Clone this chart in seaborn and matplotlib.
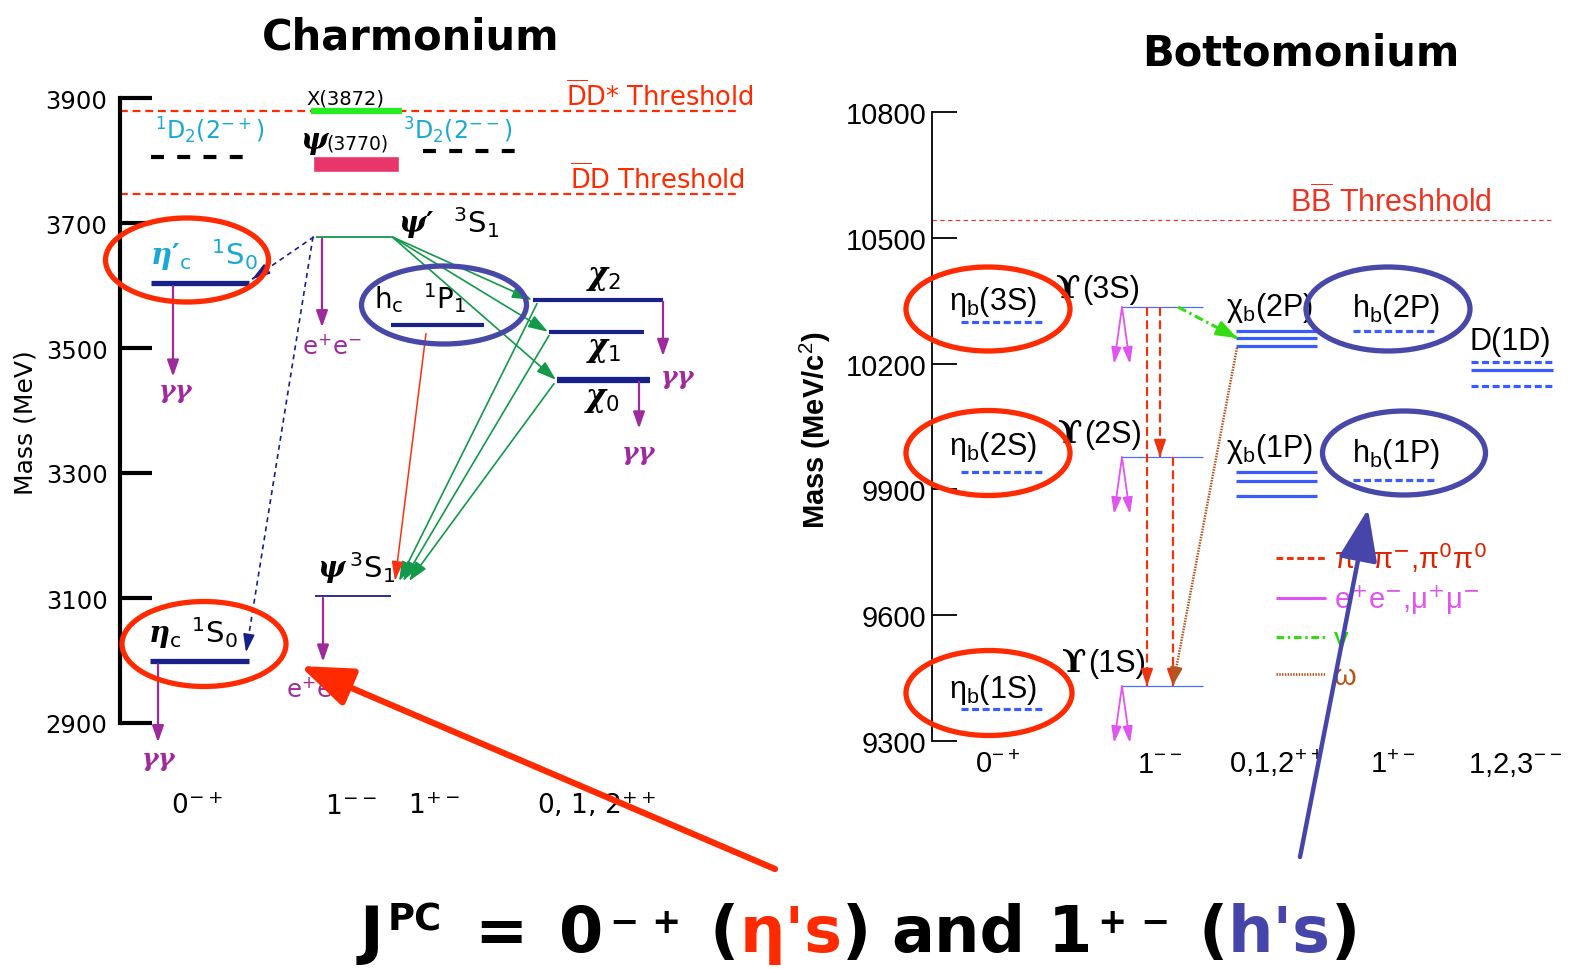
import matplotlib
matplotlib.use("Agg")
import matplotlib.pyplot as plt
import seaborn as sns
import pandas as pd
from matplotlib.patches import Ellipse
from matplotlib.lines import Line2D

# ---------------- chart data (masses in MeV) ----------------
charm_ticks = [2900, 3100, 3300, 3500, 3700, 3900]
charm_threshold_mass = [3879, 3746]
charm_threshold_text = [r"$\overline{\mathrm{D}}$D* Threshold", r"$\overline{\mathrm{D}}$D Threshold"]
charm_ids = ["eta_c", "eta_c2", "psi", "psi2", "h_c", "chi_c2", "chi_c1", "chi_c0", "X3872", "D2_mp", "D2_mm"]
charm_mass = [2999, 3604, 3103, 3678, 3537, 3577, 3526, 3449, 3879, 3806, 3816]
psi3770_band = [3782, 3807]
charm_xlabels = [r"0$^{-+}$", r"1$^{--}$", r"1$^{+-}$", r"0, 1, 2$^{++}$"]

bottom_ticks = [9300, 9600, 9900, 10200, 10500, 10800]
bottom_threshold = 10542
eta_b_mass = [9376, 9941, 10299]
upsilon_mass = [9431, 9977, 10335]
chi_b1P_mass = [9941, 9921, 9884]
chi_b2P_mass = [10278, 10261, 10242]
h_b_mass = [9922, 10278]
D1D_mass = [10204, 10185, 10147]
bottom_xlabels = [r"0$^{-+}$", r"1$^{--}$", r"0,1,2$^{++}$", r"1$^{+-}$", r"1,2,3$^{--}$"]
legend_labels = [r"π$^{+}$π$^{-}$,π$^{0}$π$^{0}$", r"e$^{+}$e$^{-}$,μ$^{+}$μ$^{-}$", "γ", "ω"]

# ---------------- style ----------------
sns.set_theme(style="white")
plt.rcParams['font.family'] = ['DejaVu Sans']
plt.rcParams['text.color'] = 'black'
plt.rcParams['axes.labelcolor'] = 'black'
plt.rcParams['ytick.color'] = 'black'
plt.rcParams['xtick.color'] = 'black'
plt.rcParams['mathtext.fontset'] = 'custom'
plt.rcParams['mathtext.rm'] = 'DejaVu Sans'
plt.rcParams['mathtext.it'] = 'DejaVu Serif:italic:bold'
plt.rcParams['mathtext.bf'] = 'DejaVu Sans:bold'
plt.rcParams['mathtext.sf'] = 'Liberation Sans'
plt.rcParams['lines.solid_capstyle'] = 'butt'
plt.rcParams['lines.dash_capstyle'] = 'butt'

NAVY = '#18208a'
CYAN = '#1ba8d4'
PURPLE = '#9f2a9c'
GREEN = '#12994a'
RED = '#ff2a00'
EBLUE = '#4848a8'
BBLUE = '#3a5cff'

W, H = 1580, 970
fig = plt.figure(figsize=(15.8, 9.7), dpi=100)
fig.patch.set_facecolor('white')


def px_axes(x0, y0, x1, y1):
    return fig.add_axes([x0 / W, 1 - y1 / H, (x1 - x0) / W, (y1 - y0) / H])


# pixel -> mass helpers (layout only)
def mL(py):
    return 3900 - (py - 99) * 1.6


def mR(py):
    return 10800 - (py - 113) * (1500 / 629.0)


mppL, mppR = 1.6, 1500 / 629.0

axL = px_axes(0, 60, 780, 820)
axR = px_axes(790, 60, 1580, 820)
axO = px_axes(0, 0, W, H)
for a in (axL, axR, axO):
    a.set_facecolor('none')
axO.set_zorder(5)
axO.set_xlim(0, W)
axO.set_ylim(H, 0)
axO.axis('off')


def arrow(ax, p0, p1, color, lw, dashes=None, ms=10, hl=1.0, hw=0.35, z=3):
    style = f'-|>,head_length={hl},head_width={hw}'
    if dashes is None:
        ax.annotate('', xy=p1, xytext=p0, annotation_clip=False, zorder=z,
                     arrowprops=dict(arrowstyle=style, color=color, lw=lw, shrinkA=0, shrinkB=0,
                                     mutation_scale=ms))
    else:
        ax.plot([p0[0], p1[0]], [p0[1], p1[1]], color=color, lw=lw, dashes=dashes, clip_on=False, zorder=z)
        q = (p1[0] - 0.02 * (p1[0] - p0[0]), p1[1] - 0.02 * (p1[1] - p0[1]))
        ax.annotate('', xy=p1, xytext=q, annotation_clip=False, zorder=z,
                    arrowprops=dict(arrowstyle=style, color=color, lw=lw, shrinkA=0, shrinkB=0,
                                    mutation_scale=ms))


# ======================= CHARMONIUM =======================
charm_x = {"eta_c": (150, 249), "eta_c2": (151, 249), "psi": (315, 391), "psi2": (316, 391),
           "h_c": (391, 484), "chi_c2": (533, 663), "chi_c1": (549, 644), "chi_c0": (557, 650),
           "X3872": (311, 402), "D2_mp": (151, 244), "D2_mm": (423, 516)}
charm_col = {"eta_c": NAVY, "eta_c2": NAVY, "psi": NAVY, "psi2": GREEN, "h_c": NAVY, "chi_c2": NAVY,
             "chi_c1": NAVY, "chi_c0": NAVY, "X3872": '#22ee22', "D2_mp": 'black', "D2_mm": 'black'}
charm_lw = {"eta_c": 3.8, "eta_c2": 3.8, "psi": 1.3, "psi2": 1.3, "h_c": 3.0, "chi_c2": 3.0,
            "chi_c1": 3.0, "chi_c0": 4.5, "X3872": 4.5, "D2_mp": 3.0, "D2_mm": 3.0}
charm_dash = {k: "" for k in charm_ids}
charm_dash["D2_mp"] = (3.1, 3.2)
charm_dash["D2_mm"] = (3.1, 3.2)

rows = []
for cid, m in zip(charm_ids, charm_mass):
    for xx in charm_x[cid]:
        rows.append(dict(id=cid, x=xx, m=m))
dfc = pd.DataFrame(rows)
sns.lineplot(data=dfc, x='x', y='m', hue='id', size='id', style='id', palette=charm_col,
             sizes=charm_lw, dashes=charm_dash, estimator=None, sort=False, legend=False, ax=axL, zorder=3)
cm = dict(zip(charm_ids, charm_mass))

axL.set_xlim(0, 780)
axL.set_ylim(mL(820), mL(60))
axL.set_xlabel('')
axL.set_ylabel('')
for s in ['top', 'right', 'bottom']:
    axL.spines[s].set_visible(False)
axL.spines['left'].set_position(('data', 120))
axL.spines['left'].set_bounds(2900, 3900)
axL.spines['left'].set_linewidth(3)
axL.spines['left'].set_color('black')
axL.set_xticks([])
axL.set_yticks(charm_ticks)
axL.tick_params(axis='y', left=True, direction='in', length=23, width=3, labelsize=17.5, pad=9,
                colors='black')

# psi(3770) band
axL.bar(356, psi3770_band[1] - psi3770_band[0], bottom=psi3770_band[0], width=86,
        color='#e8356a', zorder=3)

# thresholds
for m, t, tx, ty in zip(charm_threshold_mass, charm_threshold_text, [566, 570], [106, 189]):
    axL.plot([120, 738], [m, m], color=RED, lw=1.6, dashes=(3.5, 2.2), zorder=2)
    axL.text(tx, mL(ty), t, color=RED, fontsize=18.5, va='baseline')

PRIME = "\u2032"
# labels charmonium
axL.text(306, mL(104), "X(3872)", fontsize=14, va='baseline', color='black')
axL.text(300, mL(149), r"$\psi$", fontsize=21, va='baseline', color='black')
axL.text(326, mL(149), "(3770)", fontsize=13.5, va='baseline', color='black')
axL.text(155, mL(139), r"$^{1}$D$_{2}$(2$^{-+}$)", fontsize=17, color=CYAN, va='baseline')
axL.text(403, mL(139), r"$^{3}$D$_{2}$(2$^{--}$)", fontsize=17, color=CYAN, va='baseline')
axL.text(150, mL(265), r"$\eta$" + PRIME + r"$_{\mathrm{c}}\ \ ^{1}\mathrm{S}_{0}$", fontsize=21,
         color=CYAN, va='baseline', fontweight='bold')
axL.text(148, mL(643), r"$\eta_{\mathrm{c}}\ ^{1}\mathrm{S}_{0}$", fontsize=21, color='black', va='baseline')
axL.text(398, mL(233), r"$\psi$" + PRIME + r"$\ \ ^{3}\mathrm{S}_{1}$", fontsize=21, color='black',
         va='baseline', fontweight='bold')
axL.text(317, mL(578), r"$\psi\,^{3}\mathrm{S}_{1}$", fontsize=21, color='black', va='baseline')
axL.text(374, mL(308), r"$\mathrm{h}_{\mathrm{c}}\ \ ^{1}\mathrm{P}_{1}$", fontsize=20, color='black', va='baseline')
axL.text(586, mL(284), r"$\chi_{2}$", fontsize=22, color='black', va='baseline')
axL.text(586, mL(356), r"$\chi_{1}$", fontsize=22, color='black', va='baseline')
axL.text(584, mL(406), r"$\chi_{0}$", fontsize=22, color='black', va='baseline')
for xx, yy in [(158, 398), (141, 766), (660, 384), (621, 460)]:
    axL.text(xx, mL(yy), r"$\gamma\gamma$", fontsize=18, color=PURPLE, va='baseline')
axL.text(302, mL(355), r"e$^{+}$e$^{-}$", fontsize=17.5, color=PURPLE, va='baseline')
axL.text(286, mL(698), r"e$^{+}$e$^{-}$", fontsize=17.5, color=PURPLE, va='baseline')
for t, xx in zip(charm_xlabels, [171, 325, 408, 537]):
    axL.text(xx, mL(814), t, fontsize=19, color='black', va='baseline')

# decay arrows (purple)
arrow(axL, (173, cm["eta_c2"] - 5), (173, cm["eta_c2"] - 150), PURPLE, 1.6)
arrow(axL, (158, cm["eta_c"] - 5), (158, cm["eta_c"] - 130), PURPLE, 1.6)
arrow(axL, (322, cm["psi2"] - 3), (322, cm["psi2"] - 145), PURPLE, 1.6)
arrow(axL, (323, cm["psi"] - 3), (323, cm["psi"] - 105), PURPLE, 1.6)
arrow(axL, (663, cm["chi_c2"] - 3), (663, cm["chi_c2"] - 90), PURPLE, 1.6)
arrow(axL, (639, cm["chi_c0"] - 3), (639, cm["chi_c0"] - 78), PURPLE, 1.6)

# radiative transitions (green)
for cid, xe in [("chi_c2", 532), ("chi_c1", 548), ("chi_c0", 556)]:
    arrow(axL, (392, cm["psi2"]), (xe, cm[cid]), GREEN, 1.2, ms=10, hl=1.2, hw=0.4)
for cid, xs, xe in [("chi_c2", 537, 399), ("chi_c1", 549, 403), ("chi_c0", 554, 409)]:
    arrow(axL, (xs, cm[cid] - 6), (xe, cm["psi"] + 24), GREEN, 1.2, ms=10, hl=1.2, hw=0.4)
arrow(axL, (426, cm["h_c"] - 14), (395, cm["psi"] + 24), '#ff3010', 1.1, ms=10, hl=1.2, hw=0.35)
arrow(axL, (314, cm["psi2"]), (252, cm["eta_c2"] + 6), NAVY, 1.2, dashes=(3, 2.5), ms=10, hl=1.1, hw=0.35)
arrow(axL, (313, cm["psi2"]), (246, cm["eta_c"] + 14), NAVY, 1.2, dashes=(3, 2.5), ms=10, hl=1.1, hw=0.35)

# highlight ellipses
for (xc, yc, w, h, col) in [(187, mL(261), 163, 84, RED), (204, mL(645), 164, 85, RED),
                            (444, mL(306), 165, 78, EBLUE)]:
    axL.add_patch(Ellipse((xc, yc), w, h * mppL, fill=False, ec=col, lw=3.8, zorder=4, clip_on=False))

# ======================= BOTTOMONIUM =======================
b_ids, b_x, b_m, b_col, b_lw, b_dash = [], {}, {}, {}, {}, {}


def add_b(name, x0, x1, m, col, lw, dash):
    b_ids.append(name)
    b_x[name] = (x0, x1)
    b_m[name] = m
    b_col[name] = col
    b_lw[name] = lw
    b_dash[name] = dash


for i, m in enumerate(eta_b_mass):
    add_b(f"eta{i}", 961, 1042, m, BBLUE, 2.3, (2.2, 1.1))
for i, m in enumerate(upsilon_mass):
    add_b(f"ups{i}", 1122, 1203, m, '#4f6eff', 0.9, "")
for i, m in enumerate(chi_b1P_mass):
    add_b(f"c1P{i}", 1236, 1317, m, BBLUE, 2.3, "")
for i, m in enumerate(chi_b2P_mass):
    add_b(f"c2P{i}", 1236, 1317, m, BBLUE, 2.3, "")
for i, m in enumerate(h_b_mass):
    add_b(f"hb{i}", 1353, 1434, m, BBLUE, 2.3, (2.2, 1.1))
for i, m in enumerate(D1D_mass):
    add_b(f"D{i}", 1471, 1553, m, BBLUE, 2.3, "" if i == 1 else (2.2, 1.1))

rows = []
for bid in b_ids:
    for xx in b_x[bid]:
        rows.append(dict(id=bid, x=xx, m=b_m[bid]))
dfb = pd.DataFrame(rows)
sns.lineplot(data=dfb, x='x', y='m', hue='id', size='id', style='id', palette=b_col, sizes=b_lw,
             dashes=b_dash, estimator=None, sort=False, legend=False, ax=axR, zorder=3)

axR.set_xlim(790, 1580)
axR.set_ylim(mR(820), mR(60))
axR.set_xlabel('')
axR.set_ylabel('')
for s in ['top', 'right', 'bottom']:
    axR.spines[s].set_visible(False)
axR.spines['left'].set_position(('data', 932))
axR.spines['left'].set_bounds(9300, 10800)
axR.spines['left'].set_linewidth(1.3)
axR.spines['left'].set_color('black')
axR.set_xticks([])
axR.set_yticks(bottom_ticks)
axR.tick_params(axis='y', left=True, direction='in', length=18, width=1.3, labelsize=21, pad=4,
                colors='black')
for lab in axR.get_yticklabels():
    lab.set_fontfamily('Liberation Sans')

axR.plot([932, 1553], [bottom_threshold, bottom_threshold], color='#ee3322', lw=0.8, dashes=(4, 3))
axR.text(1290, mR(213), r"B$\overline{\mathsf{B}}$ Threshhold", fontsize=22, color='#ee3322',
         family='Liberation Sans', va='baseline')

LS = ['Liberation Sans', 'DejaVu Sans']
for lab, yy in zip(["3S", "2S", "1S"], [310, 455, 698]):
    axR.text(949, mR(yy), r"η$_{\mathsf{b}}$(" + lab + ")", fontsize=22, family=LS, va='baseline')
for lab, xx, yy in zip(["3S", "2S", "1S"], [1056, 1058, 1062], [298, 443, 672]):
    axR.text(xx, mR(yy), "ϒ", fontsize=23, family=['DejaVu Serif'], fontweight='bold', va='baseline')
    axR.text(xx + 26, mR(yy), "(" + lab + ")", fontsize=22, family=LS, va='baseline')
axR.text(1226, mR(316), r"χ$_{\mathsf{b}}$(2P)", fontsize=22, family=LS, va='baseline')
axR.text(1226, mR(457), r"χ$_{\mathsf{b}}$(1P)", fontsize=22, family=LS, va='baseline')
axR.text(1352, mR(317), r"h$_{\mathsf{b}}$(2P)", fontsize=22, family=LS, va='baseline')
axR.text(1352, mR(462), r"h$_{\mathsf{b}}$(1P)", fontsize=22, family=LS, va='baseline')
axR.text(1469, mR(350), "D(1D)", fontsize=22, family=LS, va='baseline')
for t, xx in zip(bottom_xlabels, [975, 1137, 1229, 1370, 1468]):
    axR.text(xx, mR(773), t.replace("$^{", r"$^{\mathsf{").replace("}$", "}}$"),
             fontsize=21, family=LS, va='baseline')

# transitions in bottomonium
MAG = '#e055f0'
for i, m in enumerate(upsilon_mass):
    x0 = 1122
    for xe in (1114, 1130):
        arrow(axR, (x0, m), (xe, m - 57 * mppR), MAG, 1.3, ms=10, hl=1.0, hw=0.3)
RD = '#ee3311'
arrow(axR, (1147, upsilon_mass[2]), (1147, upsilon_mass[0]), RD, 1.6, dashes=(4, 2), ms=10, hl=1.0, hw=0.35)
arrow(axR, (1160, upsilon_mass[2]), (1160, upsilon_mass[1]), RD, 1.6, dashes=(4, 2), ms=10, hl=1.0, hw=0.35)
arrow(axR, (1173, upsilon_mass[1]), (1173, upsilon_mass[0]), RD, 1.6, dashes=(4, 2), ms=10, hl=1.0, hw=0.35)
arrow(axR, (1178, upsilon_mass[2]), (1237, chi_b2P_mass[1]), '#33dd11', 2.2, dashes=(3, 1.2, 0.8, 1.2),
      ms=10, hl=1.2, hw=0.45)
arrow(axR, (1237, chi_b2P_mass[2] - 4), (1173, upsilon_mass[0] + 2), '#b4541e', 1.8, dashes=(0.6, 0.5),
      ms=10, hl=1.0, hw=0.35)

for (xc, yc, w, h, col) in [(988, mR(310), 164, 84, RED), (988, mR(454), 164, 85, RED),
                            (989, mR(694), 166, 85, RED), (1388, mR(310), 164, 84, EBLUE),
                            (1404, mR(454), 163, 84, EBLUE)]:
    axR.add_patch(Ellipse((xc, yc), w, h * mppR, fill=False, ec=col, lw=3.8, zorder=4, clip_on=False))

handles = [Line2D([], [], color=RD, lw=2.2, dashes=(2.2, 1.2)),
           Line2D([], [], color=MAG, lw=2.2),
           Line2D([], [], color='#33dd11', lw=2.2, dashes=(2.5, 1.2, 0.8, 1.2)),
           Line2D([], [], color='#b4541e', lw=2.0, dashes=(0.5, 0.5))]
leg = axR.legend(handles, legend_labels, loc='upper left', bbox_to_anchor=(1276 / W, 1 - 541 / H),
                 bbox_transform=fig.transFigure, frameon=False, handlelength=1.7,
                 handletextpad=0.3, labelspacing=0.3, borderpad=0, borderaxespad=0,
                 labelcolor=['#dd2200', MAG, '#22dd00', '#b5541c'],
                 prop={'family': 'Liberation Sans', 'size': 21})

# ======================= overlay texts / arrows =======================
axO.text(411, 50, "Charmonium", fontsize=30, fontweight='bold', ha='center', va='baseline', color='black')
axO.text(1301, 66, "Bottomonium", fontsize=30, fontweight='bold', ha='center', va='baseline', color='black')
axO.text(25, 423, "Mass (MeV)", fontsize=18, rotation=90, ha='center', va='center', color='black')
axO.text(815, 430, r"Mass (MeV/c$^{\mathsf{2}}$)", fontsize=21, fontweight='bold', family='Liberation Sans',
         rotation=90, ha='center', va='center', color='black')

axO.annotate('', xy=(300, 667), xytext=(775, 870), annotation_clip=False,
             arrowprops=dict(arrowstyle='-|>,head_length=1.6,head_width=0.6', color=RED, lw=4.5,
                             shrinkA=0, shrinkB=0, mutation_scale=20))
axO.annotate('', xy=(1368, 510), xytext=(1300, 858), annotation_clip=False,
             arrowprops=dict(arrowstyle='-|>,head_length=1.6,head_width=0.6', color='#4646aa', lw=3.2,
                             shrinkA=0, shrinkB=0, mutation_scale=20))

# bottom formula
pieces = [("J", 'black', 1.0, 0.0, 0), ("PC", 'black', 0.58, 0.34, 4), ("=", 'black', 1.0, 0.0, 36),
          ("0", 'black', 1.0, 0.0, 34), ("−", 'black', 0.55, 0.3, 6), ("+", 'black', 0.55, 0.3, 14),
          ("(", 'black', 1.0, 0.0, 32), ("η's", '#ff2a00', 1.0, 0.0, 0), (")", 'black', 1.0, 0.0, 0),
          ("and", 'black', 1.0, 0.0, 22), ("1", 'black', 1.0, 0.0, 24), ("+", 'black', 0.55, 0.3, 6),
          ("−", 'black', 0.55, 0.3, 14), ("(", 'black', 1.0, 0.0, 32), ("h's", '#4646aa', 1.0, 0.0, 0),
          (")", 'black', 1.0, 0.0, 0)]
renderer = fig.canvas.get_renderer()
BASE_Y = 952


def layout(B, x_start):
    arts = []
    x = x_start
    for txt, col, sf, rs, gap in pieces:
        x += gap * B / 50.0
        t = axO.text(x, BASE_Y - rs * B * 100 / 72.0, txt, fontsize=B * sf, color=col, fontweight='bold',
                     va='baseline', ha='left')
        x += t.get_window_extent(renderer).width
        arts.append(t)
    return arts, x - x_start


arts, total = layout(50, 360)
for a in arts:
    a.remove()
B = 50 * 1000.0 / total
arts, total = layout(B, 360)

fig.savefig("out.png", dpi=100, facecolor='white')
